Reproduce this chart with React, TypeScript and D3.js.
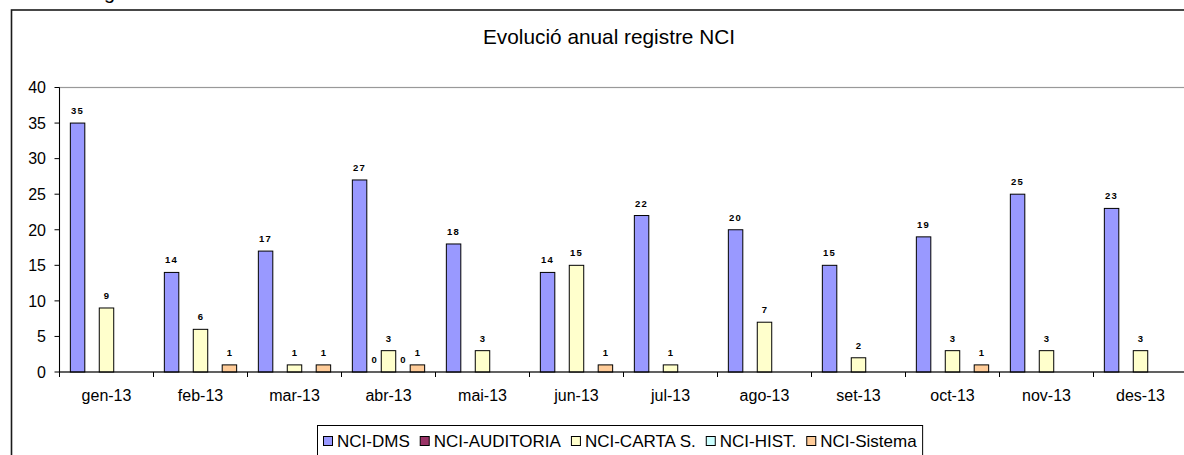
import React, { useEffect, useRef } from "react";
import * as d3 from "d3";

const categories = ["gen-13", "feb-13", "mar-13", "abr-13", "mai-13", "jun-13", "jul-13", "ago-13", "set-13", "oct-13", "nov-13", "des-13"];
const seriesNames = ["NCI-DMS", "NCI-AUDITORIA", "NCI-CARTA S.", "NCI-HIST.", "NCI-Sistema"];
const dms = [35, 14, 17, 27, 18, 14, 22, 20, 15, 19, 25, 23];
const auditoria = [null, null, null, 0, null, null, null, null, null, null, null, null];
const cartaS = [9, 6, 1, 3, 3, 15, 1, 7, 2, 3, 3, 3];
const hist = [null, null, null, 0, null, null, null, null, null, null, null, null];
const sistema = [null, 1, 1, 1, null, 1, null, null, null, 1, null, null];
const seriesColors = ["#9999FF", "#993366", "#FFFFCC", "#CCFFFF", "#FFCC99"];
const yTicks = [0, 5, 10, 15, 20, 25, 30, 35, 40];
const title = "Evolució anual registre NCI";

const W = 1184;
const H = 455;
const FONT = "'Liberation Sans', Arial, sans-serif";

export default function App() {
  const ref = useRef<SVGSVGElement | null>(null);

  useEffect(() => {
    const svg = d3.select(ref.current);
    svg.selectAll("*").remove();

    const seriesData = [dms, auditoria, cartaS, hist, sistema];
    const left = 59.5, right = 59.5 + 12 * 94, top = 87.5, bottom = 372;

    const x0 = d3.scaleBand<string>().domain(categories).range([left, right]).padding(0);
    const x1 = d3.scaleBand<string>().domain(seriesNames).range([0, x0.bandwidth()]).paddingInner(0).paddingOuter(0.75);
    const y = d3.scaleLinear().domain([0, 40]).range([bottom, top]);

    // partial heading above the chart (cut off in the reference)
    svg.append("text").attr("x", 104).attr("y", -1).attr("font-family", FONT).attr("font-size", 20).attr("fill", "#000").text("g");

    // outer chart border
    svg.append("rect").attr("x", 11.5).attr("y", 10).attr("width", W + 20).attr("height", H + 20)
      .attr("fill", "#fff").attr("stroke", "#1a1a1a").attr("stroke-width", 1.6);

    // title
    svg.append("text").attr("x", 609).attr("y", 44).attr("text-anchor", "middle")
      .attr("font-family", FONT).attr("font-size", 20.8).attr("fill", "#000").text(title);

    // plot area border (gray)
    svg.append("rect").attr("x", left).attr("y", top).attr("width", right - left).attr("height", bottom - top)
      .attr("fill", "none").attr("stroke", "#999").attr("stroke-width", 1.2);

    // bars
    const g = svg.append("g");
    categories.forEach((cat, ci) => {
      seriesData.forEach((arr, si) => {
        const v = arr[ci];
        if (v === null || v === undefined) return;
        const bx = (x0(cat) as number) + (x1(seriesNames[si]) as number);
        const bw = x1.bandwidth();
        if (v > 0) {
          g.append("rect").attr("x", bx).attr("y", y(v)).attr("width", bw).attr("height", y(0) - y(v))
            .attr("fill", seriesColors[si]).attr("stroke", "#000").attr("stroke-width", 1);
        }
        g.append("text").attr("x", bx + bw / 2).attr("y", y(v) - 9).attr("text-anchor", "middle")
          .attr("font-family", FONT).attr("font-size", 9.5).attr("font-weight", "bold")
          .attr("letter-spacing", String(v).length > 1 ? 1.2 : 0)
          .attr("fill", "#000").text(String(v));
      });
    });

    // y axis
    svg.append("line").attr("x1", left).attr("x2", left).attr("y1", top).attr("y2", bottom).attr("stroke", "#000").attr("stroke-width", 1);
    yTicks.forEach((t) => {
      svg.append("line").attr("x1", left - 5).attr("x2", left).attr("y1", y(t)).attr("y2", y(t)).attr("stroke", "#000");
      svg.append("text").attr("x", 46).attr("y", y(t)).attr("dy", "0.36em").attr("text-anchor", "end")
        .attr("font-family", FONT).attr("font-size", 16).attr("fill", "#000").text(String(t));
    });

    // x axis
    svg.append("line").attr("x1", left).attr("x2", right).attr("y1", bottom).attr("y2", bottom).attr("stroke", "#000").attr("stroke-width", 1);
    categories.forEach((cat) => {
      const cx = x0(cat) as number;
      svg.append("line").attr("x1", cx).attr("x2", cx).attr("y1", bottom).attr("y2", bottom + 5).attr("stroke", "#000");
      svg.append("text").attr("x", cx + x0.bandwidth() / 2).attr("y", 401).attr("text-anchor", "middle")
        .attr("font-family", FONT).attr("font-size", 16).attr("fill", "#000").text(cat);
    });

    // legend
    const lg = svg.append("g");
    const box = lg.append("rect").attr("x", 317.5).attr("y", 425.5).attr("height", 40)
      .attr("fill", "#fff").attr("stroke", "#000").attr("stroke-width", 1);
    let lx = 323;
    seriesNames.forEach((name, i) => {
      lg.append("rect").attr("x", lx + 0.5).attr("y", 436.5).attr("width", 9).attr("height", 9)
        .attr("fill", seriesColors[i]).attr("stroke", "#000").attr("stroke-width", 1);
      const t = lg.append("text").attr("x", lx + 14).attr("y", 447)
        .attr("font-family", FONT).attr("font-size", 17).attr("fill", "#000").text(name);
      const len = (t.node() as SVGTextElement).getComputedTextLength();
      lx = lx + 14 + len + 10;
    });
    box.attr("width", lx - 317.5 - 4);
  }, []);

  return (
    <svg ref={ref} width={W} height={H} style={{ position: "absolute", left: 0, top: 0, background: "#fff" }} />
  );
}
